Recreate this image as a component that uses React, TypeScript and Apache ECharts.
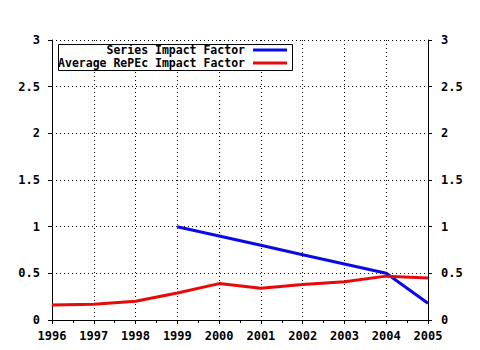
import React, { useEffect, useRef } from "react";
import * as echarts from "echarts";

const years = [1996, 1997, 1998, 1999, 2000, 2001, 2002, 2003, 2004, 2005];
const seriesIF: (number | null)[] = [null, null, null, 1.0, 0.9, 0.8, 0.7, 0.6, 0.5, 0.18];
const repecIF = [0.16, 0.17, 0.2, 0.29, 0.39, 0.34, 0.38, 0.41, 0.47, 0.45];
const seriesNames = ["Series Impact Factor", "Average RePEc Impact Factor"];
const colors = ["#0a0ae6", "#e60a0a"];

const FONT = "DejaVu Sans Mono";

export default function App() {
  const ref = useRef<HTMLDivElement>(null);
  useEffect(() => {
    if (!ref.current) return;
    const chart = echarts.init(ref.current, undefined, { renderer: "svg" });
    const lbl = { fontFamily: FONT, fontWeight: "bold" as const, fontSize: 12, color: "#000" };
    const split = { show: true, lineStyle: { color: "#000", type: [1, 3] as any, width: 1 } };
    const axLine = { show: true, lineStyle: { color: "#000", width: 1 } };
    const toPairs = (arr: (number | null)[]) => years.map((y, i) => [y, arr[i]]);
    chart.setOption({
      animation: false,
      backgroundColor: "#fff",
      grid: { left: 52, right: 52, top: 40, bottom: 30, containLabel: false },
      xAxis: [
        {
          type: "value", min: 1996, max: 2005, interval: 1, position: "bottom",
          axisLine: axLine,
          axisTick: { show: true, length: 4, lineStyle: { color: "#000" } },
          minorTick: { show: true, splitNumber: 2, length: 3, lineStyle: { color: "#000" } },
          axisLabel: { ...lbl, margin: 10, formatter: (v: number) => String(v) },
          splitLine: split,
        },
        {
          type: "value", min: 1996, max: 2005, interval: 1, position: "top",
          axisLine: axLine,
          axisTick: { show: true, length: 3, inside: true, lineStyle: { color: "#000" } },
          minorTick: { show: true, splitNumber: 2, length: 3, lineStyle: { color: "#000" } },
          axisLabel: { show: false },
          splitLine: { show: false },
        },
      ],
      yAxis: [
        {
          type: "value", min: 0, max: 3, interval: 0.5, position: "left",
          axisLine: axLine,
          axisTick: { show: true, length: 4, lineStyle: { color: "#000" } },
          axisLabel: { ...lbl, margin: 12 },
          splitLine: split,
        },
        {
          type: "value", min: 0, max: 3, interval: 0.5, position: "right",
          axisLine: axLine,
          axisTick: { show: true, length: 4, lineStyle: { color: "#000" } },
          axisLabel: { ...lbl, margin: 13 },
          splitLine: { show: false },
        },
      ],
      series: [
        {
          name: seriesNames[0], type: "line", data: toPairs(seriesIF), showSymbol: false,
          connectNulls: false, lineStyle: { color: colors[0], width: 3 }, itemStyle: { color: colors[0] },
        },
        {
          name: seriesNames[1], type: "line", data: toPairs(repecIF), showSymbol: false,
          lineStyle: { color: colors[1], width: 3 }, itemStyle: { color: colors[1] },
        },
      ],
      graphic: [
        {
          type: "rect", left: 58, top: 44, shape: { width: 234, height: 26 },
          style: { fill: "#fff", stroke: "#000", lineWidth: 1 }, z: 100,
        },
        {
          type: "text", x: 245, y: 50, z: 101,
          style: { text: seriesNames[0], fill: "#000", font: `bold 11.5px '${FONT}'`, textAlign: "right", textVerticalAlign: "middle" },
        },
        {
          type: "text", x: 245, y: 63, z: 101,
          style: { text: seriesNames[1], fill: "#000", font: `bold 11.5px '${FONT}'`, textAlign: "right", textVerticalAlign: "middle" },
        },
        {
          type: "line", z: 101, shape: { x1: 253, y1: 50, x2: 287, y2: 50 },
          style: { stroke: colors[0], lineWidth: 3 },
        },
        {
          type: "line", z: 101, shape: { x1: 253, y1: 63, x2: 287, y2: 63 },
          style: { stroke: colors[1], lineWidth: 3 },
        },
      ],
    });
    return () => chart.dispose();
  }, []);
  return <div ref={ref} style={{ width: 480, height: 350, position: "absolute", left: 0, top: 0 }} />;
}
